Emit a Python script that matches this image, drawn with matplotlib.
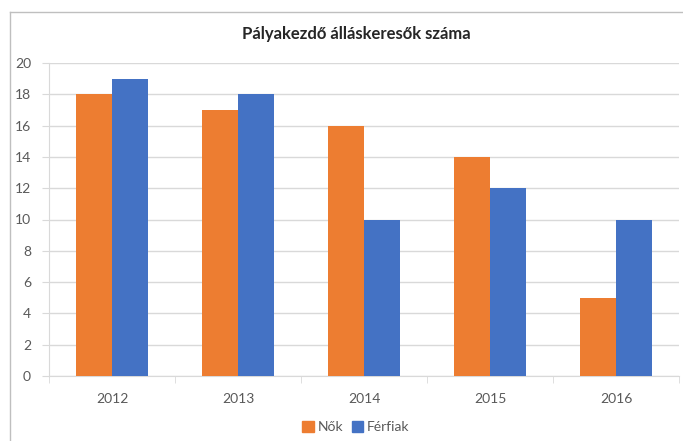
"""Pályakezdő álláskeresők száma - grouped bar chart."""

import matplotlib
matplotlib.use("Agg")
import matplotlib.pyplot as plt
import numpy as np
from matplotlib.lines import Line2D
from matplotlib.patches import Patch

years = ["2012", "2013", "2014", "2015", "2016"]
nok = [18, 17, 16, 14, 5]
ferfiak = [19, 18, 10, 12, 10]
series_names = ["Nők", "Férfiak"]

ORANGE = "#ED7D31"
BLUE = "#4472C4"
GRID = "#D9D9D9"
TEXT = "#595959"

plt.rcParams["font.family"] = ["Lato", "DejaVu Sans"]

W, H = 683, 441
fig = plt.figure(figsize=(W / 100, H / 100), dpi=100)
fig.patch.set_facecolor("white")

ax = fig.add_axes([49 / W, 1 - 376 / H, 630 / W, 313 / H])

x = np.arange(len(years))
bw = 36 / 126
ax.bar(x - bw / 2, nok, bw, color=ORANGE, label=series_names[0], zorder=3)
ax.bar(x + bw / 2, ferfiak, bw, color=BLUE, label=series_names[1], zorder=3)

ax.set_xlim(-0.5, len(years) - 0.5)
ax.set_ylim(0, 20)
ax.set_yticks(range(0, 21, 2))
ax.yaxis.grid(True, color=GRID, linewidth=1, zorder=0)
ax.set_xticks(x)
ax.set_xticklabels(years)
ax.set_xticks(np.arange(-0.5, len(years)), minor=True)
ax.tick_params(axis="x", which="major", length=0, pad=12, labelsize=10, labelcolor=TEXT)
ax.tick_params(axis="x", which="minor", length=5, color=GRID, direction="out")
ax.tick_params(axis="y", length=5, color=GRID, labelsize=10, labelcolor=TEXT, pad=8)

for side in ["top", "right"]:
    ax.spines[side].set_visible(False)
for side in ["left", "bottom"]:
    ax.spines[side].set_color(GRID)

fig.text(356 / W, 1 - 34 / H, "Pályakezdő álláskeresők száma",
         ha="center", va="center", fontsize=12, fontweight="bold", color="#262626")

handles = [Patch(color=ORANGE), Patch(color=BLUE)]
fig.legend(handles, series_names, loc="center", bbox_to_anchor=(356 / W, 1 - 427 / H),
           ncol=2, frameon=False, fontsize=10, handlelength=0.8, handleheight=0.8,
           handletextpad=0.3, columnspacing=0.6, labelcolor=TEXT)

# chart frame (partly cropped in the original)
fig.add_artist(Line2D([10 / W, 10 / W], [0, 1 - 12 / H], transform=fig.transFigure,
                      color="#BFBFBF", linewidth=1))
fig.add_artist(Line2D([10 / W, 1], [1 - 12 / H, 1 - 12 / H], transform=fig.transFigure,
                      color="#BFBFBF", linewidth=1))

fig.savefig("out.png", dpi=100, facecolor="white")
